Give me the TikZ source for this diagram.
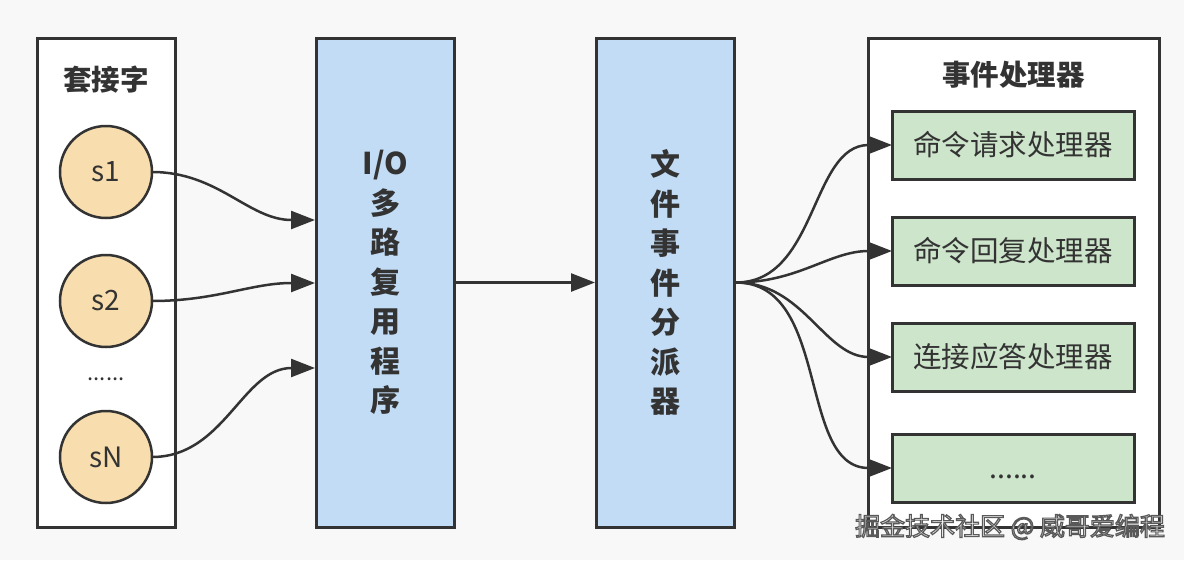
\documentclass[tikz,border=0pt]{standalone}
\usepackage{fontspec}
\usepackage{xcolor}
\usepackage{tikz}
\usetikzlibrary{arrows.meta,positioning}

\newfontfamily\cjk{Noto Sans CJK SC}
\definecolor{bgc}{HTML}{F8F8F8}
\definecolor{linec}{HTML}{333333}
\definecolor{textc}{HTML}{333333}
\definecolor{stageblue}{HTML}{C2DCF5}
\definecolor{handgreen}{HTML}{CDE5CA}
\definecolor{sockfill}{HTML}{F8DDAE}

% white text with a grey rim, for the site mark
\newcommand\wmark[1]{\special{pdf:code 2 Tr 1.2 w 0.35 G}#1\special{pdf:code 0 Tr}}

\begin{document}
\begin{tikzpicture}[
  x=1pt, y=-1pt,
  panel/.style={draw=linec, line width=3pt, fill=white, inner sep=0pt,
    minimum width=138pt, minimum height=489pt},
  stage/.style={panel, fill=stageblue, align=center, text=textc,
    font=\cjk\bfseries\fontsize{30}{39.5}\selectfont},
  title/.style={text=textc, font=\cjk\bfseries\fontsize{28.5}{32}\selectfont},
  sock/.style={circle, draw=linec, line width=2.5pt, fill=sockfill,
    minimum size=92pt, inner sep=0pt, outer sep=0pt, text=textc,
    font=\cjk\fontsize{28}{32}\selectfont},
  handler/.style={draw=linec, line width=3pt, fill=handgreen, inner sep=0pt,
    outer sep=0pt, minimum width=242pt, minimum height=68pt, text=textc,
    font=\cjk\fontsize{28.5}{32}\selectfont},
  arr/.style={draw=linec, line width=2.5pt, -{Triangle[length=24pt,width=18pt]}}
]
  \fill[bgc] (0,0) rectangle (1184,560);
  \useasboundingbox (0,0) rectangle (1184,560);

  % four columns
  \node[panel] (sockets) at (106,282.5) {};
  \node[stage] (mux) at (385.5,282.5) {I/O\\多\\路\\复\\用\\程\\序};
  \node[stage] (dispatch) at (665.5,282.5) {文\\件\\事\\件\\分\\派\\器};
  \node[panel, minimum width=291pt] (handlers) at (1013.5,282.5) {};

  \node[title] (socktitle) at (106,80) {套接字};
  \node[title] (handtitle) at (1013.5,75) {事件处理器};

  % sockets
  \node[sock] (s1) at (106,172) {s1};
  \node[sock, below=37pt of s1] (s2) {s2};
  \node[sock, below=64pt of s2] (sN) {sN};
  \node[text=textc, font=\cjk\fontsize{22}{24}\selectfont] (sdots) at (106,379) {......};

  % handlers
  \node[handler] (h1) at (1013,145) {命令请求处理器};
  \node[handler, below=38pt of h1] (h2) {命令回复处理器};
  \node[handler, below=38pt of h2] (h3) {连接应答处理器};
  \node[handler, below=43pt of h3] (h4) {\raisebox{-10pt}[0pt][0pt]{......}};

  \coordinate (in1) at (mux.west |- 0,220);
  \coordinate (in2) at (mux.west |- 0,283);
  \coordinate (in3) at (mux.west |- 0,368);

  \draw[arr] (s1.east) to[out=0, in=180] (in1);
  \draw[arr] (s2.east) to[out=0, in=180] (in2);
  \draw[arr] (sN.east) to[out=0, in=180] (in3);
  \draw[arr] (mux) -- (dispatch);
  \foreach \h in {h1,h2,h3,h4}
    \draw[arr] (dispatch.east) to[out=0, in=180] (\h.west);

  \node[text=white, font=\cjk\fontsize{25}{28}\selectfont] (mark) at (1010,527)
    {\wmark{掘金技术社区 @ 威哥爱编程}};
\end{tikzpicture}
\end{document}
